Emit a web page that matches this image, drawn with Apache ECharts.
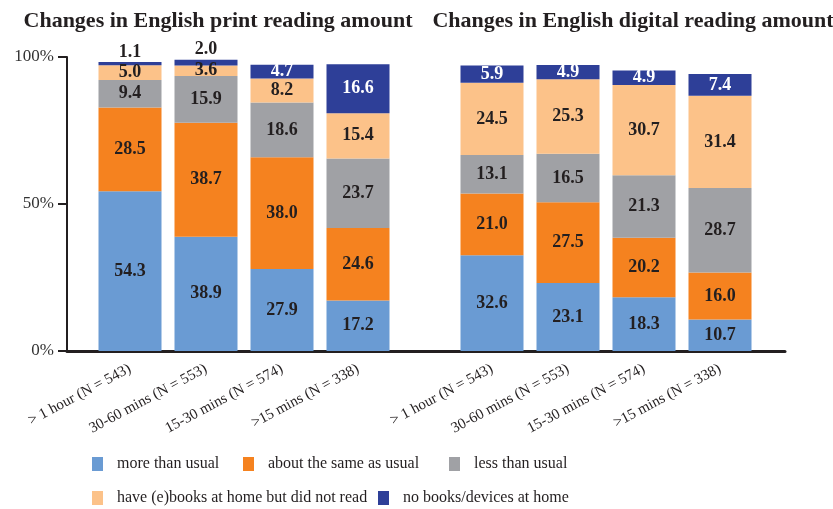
<!DOCTYPE html>
<html><head><meta charset="utf-8">
<script src="https://cdn.jsdelivr.net/npm/echarts@6/dist/echarts.min.js"></script>
<style>html,body{margin:0;padding:0;background:#fff}#c{width:833px;height:509px}</style>
</head><body><div id="c"></div>
<script>
const categories = ['> 1 hour (N = 543)', '30-60 mins (N = 553)', '15-30 mins (N = 574)', '>15 mins (N = 338)'];
const seriesNames = ['more than usual', 'about the same as usual', 'less than usual', 'have (e)books at home but did not read', 'no books/devices at home'];
const colors = ['#6A9BD3', '#F5821F', '#A0A1A5', '#FCC289', '#2E3F98'];
const yTicks = [0, 50, 100];

// Print reading
const printMore = [54.3, 38.9, 27.9, 17.2];
const printSame = [28.5, 38.7, 38.0, 24.6];
const printLess = [9.4, 15.9, 18.6, 23.7];
const printHave = [5.0, 3.6, 8.2, 15.4];
const printNone = [1.1, 2.0, 4.7, 16.6];

// Digital reading
const digitalMore = [32.6, 23.1, 18.3, 10.7];
const digitalSame = [21.0, 27.5, 20.2, 16.0];
const digitalLess = [13.1, 16.5, 21.3, 28.7];
const digitalHave = [24.5, 25.3, 30.7, 31.4];
const digitalNone = [5.9, 4.9, 4.9, 7.4];

const printData = [printMore, printSame, printLess, printHave, printNone];
const digitalData = [digitalMore, digitalSame, digitalLess, digitalHave, digitalNone];

const serif = "'Liberation Serif', 'Times New Roman', serif";
const dark = '#231F20';

function makeSeries(dataSets, idx, stack) {
  return dataSets.map((vals, i) => ({
    name: seriesNames[i],
    type: 'bar',
    stack: stack,
    xAxisIndex: idx,
    yAxisIndex: idx,
    barWidth: 63,
    itemStyle: { color: colors[i] },
    label: {
      show: true,
      position: 'inside',
      fontFamily: serif,
      fontWeight: 'bold',
      fontSize: 18,
      color: i === 4 ? '#fff' : dark,
      formatter: p => p.value.toFixed(1)
    },
    data: vals.map(v => (i === 4 && v < 3)
      ? { value: v, label: { position: 'top', color: dark, distance: 1 } }
      : v)
  }));
}

const gridTop = 57, gridH = 294;
const legendPos = [
  { left: 92, top: 456 }, { left: 243, top: 456 }, { left: 449, top: 456 },
  { left: 92, top: 490 }, { left: 378, top: 490 }
];

const catAxis = (gi) => ({
  type: 'category', gridIndex: gi, data: categories,
  axisLine: { show: false }, axisTick: { show: false },
  axisLabel: { rotate: 28, margin: 17, fontFamily: serif, fontSize: 15, color: dark, interval: 0 }
});

const option = {
  backgroundColor: '#fff',
  animation: false,
  title: [
    { text: 'Changes in English print reading amount', left: 213, top: 5, textAlign: 'center',
      textStyle: { fontFamily: serif, fontWeight: 'bold', fontSize: 22, color: dark } },
    { text: 'Changes in English digital reading amount', left: 628, top: 5, textAlign: 'center',
      textStyle: { fontFamily: serif, fontWeight: 'bold', fontSize: 22, color: dark } }
  ],
  legend: legendPos.map((p, i) => ({
    data: [seriesNames[i]], left: p.left, top: p.top, padding: 0,
    itemWidth: 11, itemHeight: 14, icon: 'rect', selectedMode: false,
    textStyle: { fontFamily: serif, fontSize: 16, color: dark, padding: [0, 0, 0, 9] }
  })),
  grid: [
    { left: 92, width: 304, top: gridTop, height: gridH },
    { left: 454, width: 304, top: gridTop, height: gridH },
    { left: 67, width: 718, top: gridTop, height: gridH }
  ],
  xAxis: [
    catAxis(0),
    catAxis(1),
    { type: 'value', gridIndex: 2, min: 0, max: 1, axisLine: { show: true, lineStyle: { color: dark, width: 3 } },
      axisTick: { show: false }, axisLabel: { show: false }, splitLine: { show: false } }
  ],
  yAxis: [
    { type: 'value', gridIndex: 0, min: yTicks[0], max: yTicks[yTicks.length - 1], interval: 50, offset: 25,
      axisLine: { show: true, lineStyle: { color: dark, width: 2 } },
      axisTick: { show: true, length: 9, lineStyle: { color: dark, width: 2 } },
      axisLabel: { fontFamily: serif, fontSize: 17, color: '#333', margin: 13, formatter: '{value}%' },
      splitLine: { show: false } },
    { type: 'value', gridIndex: 1, min: 0, max: 100, show: false },
    { type: 'value', gridIndex: 2, min: 0, max: 100, show: false }
  ],
  series: [...makeSeries(printData, 0, 'print'), ...makeSeries(digitalData, 1, 'digital')]
};

echarts.init(document.getElementById('c')).setOption(option);
</script>
</body></html>
